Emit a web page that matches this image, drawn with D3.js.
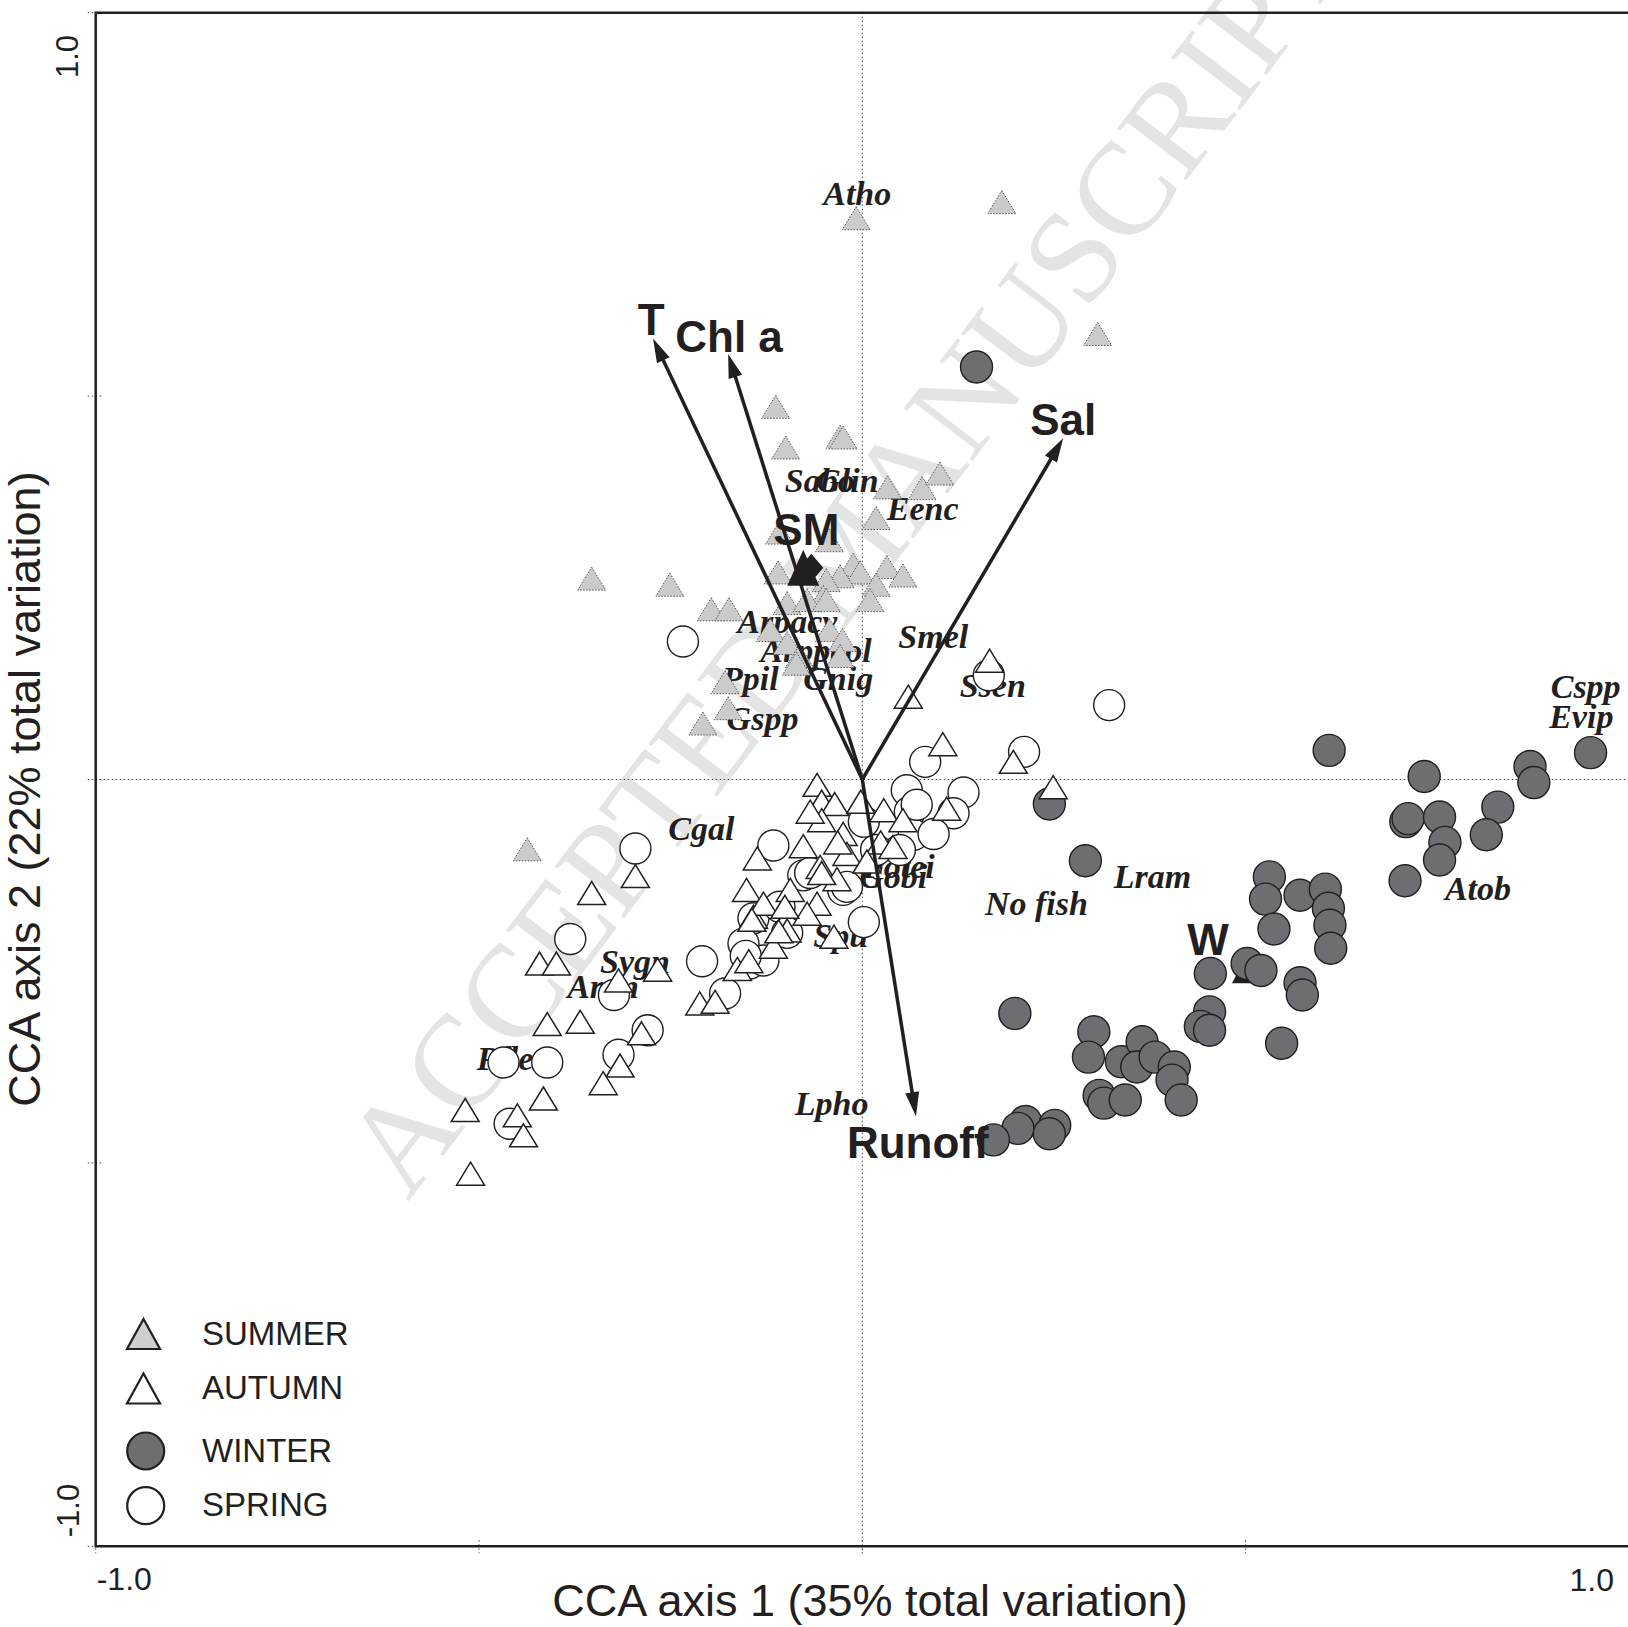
<!doctype html>
<html>
  <head>
    <meta charset="utf-8">
    <title>CCA biplot with D3</title>
    <script src="https://cdnjs.cloudflare.com/ajax/libs/d3/7.8.5/d3.min.js"></script>
    <style>
      body { margin: 0; background: #fff; }
      svg { display: block; }
    </style>
  </head>
  <body>
    <div id="my-svg-chart"></div>

    <script>
    // Step 1. site scores per season [CCA axis 1, CCA axis 2]
    let summer = [[-0.008,0.732],[0.182,0.753],[0.307,0.581],[-0.113,0.486],[-0.029,0.447],[-0.025,0.446],[-0.100,0.433],
      [0.033,0.381],[0.078,0.380],[0.101,0.399],[0.018,0.341],[-0.108,0.322],[-0.043,0.312],[-0.110,0.270],[-0.012,0.280],
      [-0.003,0.270],[0.032,0.277],[0.053,0.266],[-0.029,0.265],[-0.047,0.260],[0.018,0.254],[-0.051,0.238],[-0.098,0.230],
      [0.010,0.234],[-0.072,0.234],[-0.047,0.234],[-0.251,0.254],[-0.353,0.262],[-0.197,0.222],[-0.174,0.222],[-0.120,0.195],
      [-0.043,0.195],[-0.026,0.182],[-0.098,0.178],[-0.082,0.161],[-0.029,0.161],[-0.086,0.151],[-0.179,0.127],[-0.175,0.093],
      [-0.208,0.073],[-0.437,-0.091]];

    let autumn = [[0.166,0.155],[0.060,0.108],[0.105,0.046],[0.197,0.023],[0.249,-0.010],[-0.059,-0.007],[-0.053,-0.029],
      [-0.036,-0.032],[-0.002,-0.029],[0.028,-0.040],[0.053,-0.053],[0.110,-0.038],[-0.053,-0.053],[-0.025,-0.071],[-0.077,-0.087],
      [0.024,-0.082],[0.040,-0.088],[-0.020,-0.097],[0.006,-0.107],[-0.055,-0.114],[-0.137,-0.103],[-0.151,-0.144],[-0.094,-0.144],
      [-0.033,-0.130],[-0.059,-0.162],[-0.032,-0.082],[-0.068,-0.042],[-0.296,-0.126],[-0.353,-0.148],[-0.421,-0.240],[-0.399,-0.240],
      [-0.318,-0.262],[-0.267,-0.248],[-0.411,-0.319],[-0.368,-0.316],[-0.288,-0.331],[-0.316,-0.373],[-0.338,-0.396],[-0.416,-0.416],
      [-0.518,-0.431],[-0.450,-0.438],[-0.442,-0.464],[-0.511,-0.514],[-0.212,-0.292],[-0.192,-0.290],[-0.163,-0.247],[-0.148,-0.237],
      [-0.116,-0.218],[-0.037,-0.205],[-0.142,-0.179],[-0.098,-0.197],[-0.072,-0.175],[-0.129,-0.162],[-0.101,-0.166],[-0.144,-0.183],
      [-0.109,-0.198],[-0.053,-0.122]];

    let winter = [[0.149,0.538],[0.609,0.038],[0.733,0.004],[0.871,0.017],[0.876,-0.004],[0.950,0.035],[0.829,-0.036],
      [0.814,-0.072],[0.709,-0.055],[0.712,-0.051],[0.753,-0.049],[0.760,-0.082],[0.753,-0.105],[0.708,-0.132],[0.244,-0.032],
      [0.291,-0.106],[0.531,-0.127],[0.526,-0.156],[0.537,-0.195],[0.571,-0.151],[0.604,-0.143],[0.608,-0.168],[0.610,-0.190],
      [0.611,-0.220],[0.454,-0.253],[0.502,-0.240],[0.520,-0.249],[0.571,-0.265],[0.574,-0.281],[0.453,-0.303],[0.441,-0.322],
      [0.453,-0.327],[0.547,-0.344],[0.199,-0.305],[0.302,-0.329],[0.295,-0.362],[0.338,-0.368],[0.365,-0.342],[0.358,-0.375],
      [0.382,-0.362],[0.407,-0.375],[0.404,-0.392],[0.416,-0.418],[0.309,-0.412],[0.315,-0.422],[0.343,-0.418],[0.213,-0.446],
      [0.203,-0.455],[0.251,-0.451],[0.244,-0.462],[0.171,-0.470]];

    let spring = [[-0.234,0.180],[0.165,0.136],[0.322,0.097],[0.082,0.023],[0.211,0.036],[0.058,-0.014],[0.062,-0.042],
      [0.132,-0.017],[0.119,-0.044],[0.067,-0.072],[0.002,-0.055],[0.071,-0.033],[0.049,-0.092],[0.018,-0.092],[0.093,-0.071],
      [-0.296,-0.090],[-0.116,-0.086],[-0.077,-0.125],[-0.068,-0.122],[-0.025,-0.144],[-0.020,-0.140],[0.002,-0.186],
      [-0.381,-0.208],[-0.209,-0.237],[-0.179,-0.279],[-0.324,-0.281],[-0.280,-0.327],[-0.318,-0.359],[-0.468,-0.369],
      [-0.411,-0.369],[-0.460,-0.449],[-0.142,-0.181],[-0.108,-0.166],[-0.147,-0.240],[-0.129,-0.236],[-0.155,-0.214],
      [-0.098,-0.200],[-0.152,-0.230]];

    // Step 2. species scores (label anchor = start of text)
    let speciesNames = ["Atho","Sabo","Glin","Eenc","Arpacy","Arppcol","Ppil","Gnig","Gspp","Smel","Ssen","Cspp","Evip",
      "Cgal","Potei","Gobi","Lram","No fish","Atob","Spu","Sygn","Aran","Pfle","Lpho"];
    let speciesPos = [[-0.051,0.749],[-0.101,0.375],[-0.060,0.375],[0.032,0.338],[-0.163,0.191],[-0.133,0.153],[-0.183,0.117],
      [-0.077,0.117],[-0.177,0.065],[0.047,0.172],[0.127,0.108],[0.898,0.106],[0.896,0.067],[-0.253,-0.079],[0.001,-0.128],
      [-0.004,-0.141],[0.328,-0.141],[0.160,-0.177],[0.760,-0.157],[-0.064,-0.218],[-0.342,-0.252],[-0.385,-0.285],
      [-0.503,-0.379],[-0.088,-0.438]];

    // Step 3. environmental variables (arrows) and nominal variables (centroids)
    let envNames = ["T","Chl a","Sal","Runoff"];
    let envTips = [[-0.273,0.575],[-0.175,0.555],[0.262,0.445],[0.070,-0.439]];
    let envLabelPos = [[-0.293,0.580],[-0.244,0.558],[0.219,0.449],[-0.020,-0.494]];
    let nomNames = ["SM","W"];
    let nomPos = [[-0.077,0.276],[0.503,-0.246]];
    let nomLabelPos = [[-0.116,0.306],[0.424,-0.229]];

    // Step 4. axis ticks and legend
    let tickValues = [-0.5, 0, 0.5];
    let tickLabels = ["-1.0", "1.0"];
    let seasons = ["SUMMER","AUTUMN","WINTER","SPRING"];

    // Step 5. scales
    let x = d3.scaleLinear().domain([-1, 1]).range([95.7, 1628.9]);
    let y = d3.scaleLinear().domain([-1, 1]).range([1546.3, 12.7]);

    let ink = "#231f20";
    let sans = "'Liberation Sans', Arial, sans-serif";
    let serif = "'Liberation Serif', 'Times New Roman', serif";

    let svg = d3.select("#my-svg-chart")
      .append("svg")
      .attr("width", 1628)
      .attr("height", 1627)
      .style("background", "#fff");

    // triangle path centred on its bounding box
    function tri(cx, cy, w, h) {
      return `M${cx},${cy - h / 2}L${cx + w / 2},${cy + h / 2}L${cx - w / 2},${cy + h / 2}Z`;
    }

    // Step 6. watermark behind everything
    svg.append("text")
      .attr("transform", "translate(408,1202) rotate(-52.7)")
      .text("ACCEPTED MANUSCRIPT")
      .style("font-family", serif)
      .style("font-size", "132px")
      .style("fill", "#e4e4e4");

    // Step 7. zero lines and small ticks (dotted)
    svg.append("line")
      .attr("x1", x(0)).attr("x2", x(0)).attr("y1", y(1)).attr("y2", y(-1) + 7)
      .style("stroke", "#444").style("stroke-width", 1).style("stroke-dasharray", "1.5,2.5");
    svg.append("line")
      .attr("x1", x(-1)).attr("x2", 1628).attr("y1", y(0)).attr("y2", y(0))
      .style("stroke", "#444").style("stroke-width", 1).style("stroke-dasharray", "1.5,2.5");

    svg.selectAll(".xtick")
      .data(tickValues.concat([-1]))
      .join("line")
      .attr("class", "xtick")
      .attr("x1", d => x(d)).attr("x2", d => x(d))
      .attr("y1", y(-1) - 6).attr("y2", y(-1) + 7)
      .style("stroke", "#444").style("stroke-width", 1).style("stroke-dasharray", "1.5,2.5");
    svg.selectAll(".ytick")
      .data(tickValues.concat([-1, 1]))
      .join("line")
      .attr("class", "ytick")
      .attr("x1", x(-1) - 8).attr("x2", x(-1) + 6)
      .attr("y1", d => y(d)).attr("y2", d => y(d))
      .style("stroke", "#444").style("stroke-width", 1).style("stroke-dasharray", "1.5,2.5");

    // Step 8. species labels (under the points)
    svg.selectAll(".species")
      .data(speciesNames)
      .join("text")
      .attr("class", "species")
      .attr("x", (d, i) => x(speciesPos[i][0]))
      .attr("y", (d, i) => y(speciesPos[i][1]))
      .text(d => d)
      .style("font-family", serif)
      .style("font-style", "italic")
      .style("font-weight", "bold")
      .style("font-size", "34px")
      .style("fill", ink);

    // Step 9. W centroid sits behind the winter circles
    svg.append("path")
      .attr("d", tri(x(nomPos[1][0]), y(nomPos[1][1]), 32, 30))
      .style("fill", ink);

    // Step 10. site points
    svg.selectAll(".spring")
      .data(spring)
      .join("circle")
      .attr("class", "spring")
      .attr("cx", d => x(d[0])).attr("cy", d => y(d[1])).attr("r", 15.5)
      .style("fill", "#fff").style("stroke", ink).style("stroke-width", 1.4);

    svg.selectAll(".winter")
      .data(winter)
      .join("circle")
      .attr("class", "winter")
      .attr("cx", d => x(d[0])).attr("cy", d => y(d[1])).attr("r", 16)
      .style("fill", "#6d6e71").style("stroke", ink).style("stroke-width", 1.4);

    svg.selectAll(".summer")
      .data(summer)
      .join("path")
      .attr("class", "summer")
      .attr("d", d => tri(x(d[0]), y(d[1]), 28, 23))
      .style("fill", "#cbcbcb").style("stroke", "#555").style("stroke-width", 1)
      .style("stroke-dasharray", "1.5,1.5");

    svg.selectAll(".autumn")
      .data(autumn)
      .join("path")
      .attr("class", "autumn")
      .attr("d", d => tri(x(d[0]), y(d[1]), 28, 23))
      .style("fill", "#fff").style("stroke", ink).style("stroke-width", 1.5);

    // Step 11. arrows from the origin
    let headLen = 24, headHalf = 7;
    envTips.forEach(function(t) {
      let ox = x(0), oy = y(0), tx = x(t[0]), ty = y(t[1]);
      let len = Math.hypot(tx - ox, ty - oy);
      let ux = (tx - ox) / len, uy = (ty - oy) / len;
      let bx = tx - ux * headLen, by = ty - uy * headLen;
      svg.append("line")
        .attr("x1", ox).attr("y1", oy).attr("x2", bx + ux * 4).attr("y2", by + uy * 4)
        .style("stroke", ink).style("stroke-width", 3.5);
      svg.append("path")
        .attr("d", `M${tx},${ty}L${bx - uy * headHalf},${by + ux * headHalf}L${bx + uy * headHalf},${by - ux * headHalf}Z`)
        .style("fill", ink);
    });

    // SM centroid: triangle with a diamond
    let smx = x(nomPos[0][0]), smy = y(nomPos[0][1]);
    svg.append("path").attr("d", tri(smx, smy, 32, 36)).style("fill", ink);
    svg.append("path")
      .attr("d", `M${smx + 8},${smy - 14}L${smx + 20},${smy}L${smx + 8},${smy + 14}L${smx - 4},${smy}Z`)
      .style("fill", ink);

    // Step 12. variable labels
    svg.selectAll(".env")
      .data(envNames.concat(nomNames))
      .join("text")
      .attr("class", "env")
      .attr("x", (d, i) => x(envLabelPos.concat(nomLabelPos)[i][0]))
      .attr("y", (d, i) => y(envLabelPos.concat(nomLabelPos)[i][1]))
      .text(d => d)
      .style("font-family", sans)
      .style("font-weight", "bold")
      .style("font-size", "44px")
      .style("fill", ink);

    // Step 13. frame (open on the right)
    svg.append("path")
      .attr("d", `M1628,${y(1)}H${x(-1)}V${y(-1)}H1628`)
      .style("fill", "none").style("stroke", ink).style("stroke-width", 2.5);

    // Step 14. tick labels and axis titles
    svg.append("text").attr("x", x(-1) + 1).attr("y", 1590).text(tickLabels[0])
      .style("font-family", sans).style("font-size", "32px").style("fill", ink);
    svg.append("text").attr("x", 1614).attr("y", 1591).text(tickLabels[1])
      .style("text-anchor", "end")
      .style("font-family", sans).style("font-size", "32px").style("fill", ink);
    svg.append("text").attr("transform", `translate(79,${y(-1) - 9}) rotate(-90)`).text(tickLabels[0])
      .style("font-family", sans).style("font-size", "31px").style("fill", ink);
    svg.append("text").attr("transform", "translate(78,78) rotate(-90)").text(tickLabels[1])
      .style("font-family", sans).style("font-size", "31px").style("fill", ink);

    svg.append("text")
      .attr("x", 870).attr("y", 1616)
      .text("CCA axis 1 (35% total variation)")
      .style("text-anchor", "middle")
      .style("font-family", sans).style("font-size", "45px").style("fill", ink);
    svg.append("text")
      .attr("transform", "translate(40,789) rotate(-90)")
      .text("CCA axis 2 (22% total variation)")
      .style("text-anchor", "middle")
      .style("font-family", sans).style("font-size", "45px").style("fill", ink);

    // Step 15. legend
    let legendY = [1334, 1388.5, 1451, 1505.7];
    let legendBase = [1345, 1399, 1462, 1516];
    let legend = svg.append("g");
    legend.append("path").attr("d", tri(143.5, legendY[0], 33, 30))
      .style("fill", "#cfcfcf").style("stroke", ink).style("stroke-width", 2.2);
    legend.append("path").attr("d", tri(143.5, legendY[1], 33, 30))
      .style("fill", "#fff").style("stroke", ink).style("stroke-width", 2.2);
    legend.append("circle").attr("cx", 145.7).attr("cy", legendY[2]).attr("r", 18.5)
      .style("fill", "#6d6e71").style("stroke", ink).style("stroke-width", 2.2);
    legend.append("circle").attr("cx", 145.7).attr("cy", legendY[3]).attr("r", 18.5)
      .style("fill", "#fff").style("stroke", ink).style("stroke-width", 2.2);
    legend.selectAll("text")
      .data(seasons)
      .join("text")
      .attr("x", 202)
      .attr("y", (d, i) => legendBase[i])
      .text(d => d)
      .style("font-family", sans).style("font-size", "33px").style("fill", ink);

    </script>
  </body>
</html>
